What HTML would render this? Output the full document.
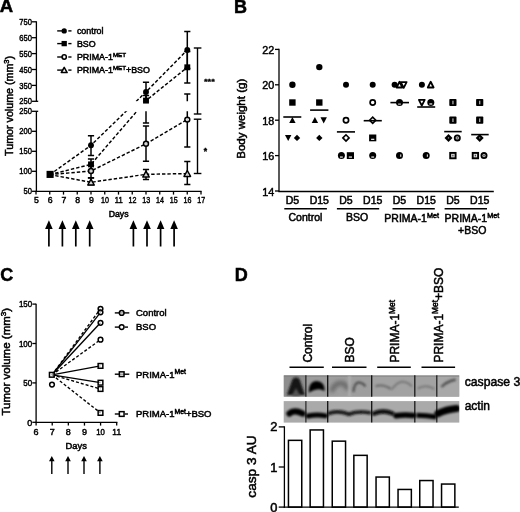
<!DOCTYPE html>
<html><head><meta charset="utf-8"><style>
html,body{margin:0;padding:0;background:#fff;overflow:hidden;width:520px;height:512px;}
svg{display:block;filter:blur(0.3px);}
text{font-family:"Liberation Sans", sans-serif;fill:#000;stroke:#000;}
</style></head><body>
<svg width="520" height="512" viewBox="0 0 520 512">
<rect width="520" height="512" fill="#fff"/>
<text x="-0.3" y="12.4" font-size="18.5" font-weight="bold" text-anchor="start" stroke-width="0.5" >A</text>
<line x1="36.4" y1="21.3" x2="36.4" y2="101.3" stroke="#000" stroke-width="1.3" />
<line x1="36.4" y1="111.3" x2="36.4" y2="191.95" stroke="#000" stroke-width="1.3" />
<line x1="31.8" y1="21.799999999999997" x2="36.4" y2="21.799999999999997" stroke="#000" stroke-width="1.3" />
<text x="31.9" y="24.9" font-size="8.7" font-weight="normal" text-anchor="end" stroke-width="0.45" textLength="12.6" lengthAdjust="spacingAndGlyphs" >750</text>
<line x1="31.8" y1="37.699999999999996" x2="36.4" y2="37.699999999999996" stroke="#000" stroke-width="1.3" />
<text x="31.9" y="40.8" font-size="8.7" font-weight="normal" text-anchor="end" stroke-width="0.45" textLength="12.6" lengthAdjust="spacingAndGlyphs" >650</text>
<line x1="31.8" y1="53.599999999999994" x2="36.4" y2="53.599999999999994" stroke="#000" stroke-width="1.3" />
<text x="31.9" y="56.699999999999996" font-size="8.7" font-weight="normal" text-anchor="end" stroke-width="0.45" textLength="12.6" lengthAdjust="spacingAndGlyphs" >550</text>
<line x1="31.8" y1="69.5" x2="36.4" y2="69.5" stroke="#000" stroke-width="1.3" />
<text x="31.9" y="72.6" font-size="8.7" font-weight="normal" text-anchor="end" stroke-width="0.45" textLength="12.6" lengthAdjust="spacingAndGlyphs" >450</text>
<line x1="31.8" y1="85.39999999999999" x2="36.4" y2="85.39999999999999" stroke="#000" stroke-width="1.3" />
<text x="31.9" y="88.49999999999999" font-size="8.7" font-weight="normal" text-anchor="end" stroke-width="0.45" textLength="12.6" lengthAdjust="spacingAndGlyphs" >350</text>
<line x1="31.8" y1="101.3" x2="38.2" y2="101.3" stroke="#000" stroke-width="1.3" />
<text x="31.9" y="104.39999999999999" font-size="8.7" font-weight="normal" text-anchor="end" stroke-width="0.45" textLength="12.6" lengthAdjust="spacingAndGlyphs" >250</text>
<line x1="31.8" y1="111.30000000000001" x2="38.2" y2="111.30000000000001" stroke="#000" stroke-width="1.3" />
<text x="31.9" y="114.4" font-size="8.7" font-weight="normal" text-anchor="end" stroke-width="0.45" textLength="12.6" lengthAdjust="spacingAndGlyphs" >250</text>
<line x1="31.8" y1="131.3" x2="36.4" y2="131.3" stroke="#000" stroke-width="1.3" />
<text x="31.9" y="134.4" font-size="8.7" font-weight="normal" text-anchor="end" stroke-width="0.45" textLength="12.6" lengthAdjust="spacingAndGlyphs" >200</text>
<line x1="31.8" y1="151.3" x2="36.4" y2="151.3" stroke="#000" stroke-width="1.3" />
<text x="31.9" y="154.4" font-size="8.7" font-weight="normal" text-anchor="end" stroke-width="0.45" textLength="12.6" lengthAdjust="spacingAndGlyphs" >150</text>
<line x1="31.8" y1="171.3" x2="36.4" y2="171.3" stroke="#000" stroke-width="1.3" />
<text x="31.9" y="174.4" font-size="8.7" font-weight="normal" text-anchor="end" stroke-width="0.45" textLength="12.6" lengthAdjust="spacingAndGlyphs" >100</text>
<line x1="31.8" y1="191.3" x2="36.4" y2="191.3" stroke="#000" stroke-width="1.3" />
<text x="31.9" y="194.4" font-size="8.7" font-weight="normal" text-anchor="end" stroke-width="0.45" textLength="8.4" lengthAdjust="spacingAndGlyphs" >50</text>
<line x1="35.75" y1="191.3" x2="201.6" y2="191.3" stroke="#000" stroke-width="1.3" />
<line x1="36.0" y1="191.3" x2="36.0" y2="194.6" stroke="#000" stroke-width="1.3" />
<text x="36.3" y="203.1" font-size="8.7" font-weight="normal" text-anchor="middle" stroke-width="0.45" >5</text>
<line x1="49.75" y1="191.3" x2="49.75" y2="194.6" stroke="#000" stroke-width="1.3" />
<text x="50.05" y="203.1" font-size="8.7" font-weight="normal" text-anchor="middle" stroke-width="0.45" >6</text>
<line x1="63.5" y1="191.3" x2="63.5" y2="194.6" stroke="#000" stroke-width="1.3" />
<text x="63.8" y="203.1" font-size="8.7" font-weight="normal" text-anchor="middle" stroke-width="0.45" >7</text>
<line x1="77.25" y1="191.3" x2="77.25" y2="194.6" stroke="#000" stroke-width="1.3" />
<text x="77.55" y="203.1" font-size="8.7" font-weight="normal" text-anchor="middle" stroke-width="0.45" >8</text>
<line x1="91.0" y1="191.3" x2="91.0" y2="194.6" stroke="#000" stroke-width="1.3" />
<text x="91.3" y="203.1" font-size="8.7" font-weight="normal" text-anchor="middle" stroke-width="0.45" >9</text>
<line x1="104.75" y1="191.3" x2="104.75" y2="194.6" stroke="#000" stroke-width="1.3" />
<text x="105.05" y="203.1" font-size="8.7" font-weight="normal" text-anchor="middle" stroke-width="0.45" textLength="7.9" lengthAdjust="spacingAndGlyphs" >10</text>
<line x1="118.5" y1="191.3" x2="118.5" y2="194.6" stroke="#000" stroke-width="1.3" />
<text x="118.8" y="203.1" font-size="8.7" font-weight="normal" text-anchor="middle" stroke-width="0.45" textLength="7.9" lengthAdjust="spacingAndGlyphs" >11</text>
<line x1="132.25" y1="191.3" x2="132.25" y2="194.6" stroke="#000" stroke-width="1.3" />
<text x="132.55" y="203.1" font-size="8.7" font-weight="normal" text-anchor="middle" stroke-width="0.45" textLength="7.9" lengthAdjust="spacingAndGlyphs" >12</text>
<line x1="146.0" y1="191.3" x2="146.0" y2="194.6" stroke="#000" stroke-width="1.3" />
<text x="146.3" y="203.1" font-size="8.7" font-weight="normal" text-anchor="middle" stroke-width="0.45" textLength="7.9" lengthAdjust="spacingAndGlyphs" >13</text>
<line x1="159.75" y1="191.3" x2="159.75" y2="194.6" stroke="#000" stroke-width="1.3" />
<text x="160.05" y="203.1" font-size="8.7" font-weight="normal" text-anchor="middle" stroke-width="0.45" textLength="7.9" lengthAdjust="spacingAndGlyphs" >14</text>
<line x1="173.5" y1="191.3" x2="173.5" y2="194.6" stroke="#000" stroke-width="1.3" />
<text x="173.8" y="203.1" font-size="8.7" font-weight="normal" text-anchor="middle" stroke-width="0.45" textLength="7.9" lengthAdjust="spacingAndGlyphs" >15</text>
<line x1="187.25" y1="191.3" x2="187.25" y2="194.6" stroke="#000" stroke-width="1.3" />
<text x="187.55" y="203.1" font-size="8.7" font-weight="normal" text-anchor="middle" stroke-width="0.45" textLength="7.9" lengthAdjust="spacingAndGlyphs" >16</text>
<line x1="201.0" y1="191.3" x2="201.0" y2="194.6" stroke="#000" stroke-width="1.3" />
<text x="201.3" y="203.1" font-size="8.7" font-weight="normal" text-anchor="middle" stroke-width="0.45" textLength="7.9" lengthAdjust="spacingAndGlyphs" >17</text>
<text x="108.7" y="217.4" font-size="8.6" font-weight="normal" text-anchor="start" stroke-width="0.5" textLength="19.9" lengthAdjust="spacingAndGlyphs" >Days</text>
<text x="12.6" y="155.9" font-size="10.4" font-weight="normal" text-anchor="start" stroke-width="0.5" textLength="100" lengthAdjust="spacingAndGlyphs" transform="rotate(-90 12.6 155.9)" >Tumor volume (mm<tspan font-size="7.3" dy="-3.8">3</tspan><tspan dy="3.8">)</tspan></text>
<path d="M45.1,229.0 L48.9,220.3 L52.699999999999996,229.0 Z" fill="#000"/>
<line x1="48.9" y1="228.5" x2="48.9" y2="246.5" stroke="#000" stroke-width="1.7" />
<path d="M58.6,229.0 L62.4,220.3 L66.2,229.0 Z" fill="#000"/>
<line x1="62.4" y1="228.5" x2="62.4" y2="246.5" stroke="#000" stroke-width="1.7" />
<path d="M72.0,229.0 L75.8,220.3 L79.6,229.0 Z" fill="#000"/>
<line x1="75.8" y1="228.5" x2="75.8" y2="246.5" stroke="#000" stroke-width="1.7" />
<path d="M85.9,229.0 L89.7,220.3 L93.5,229.0 Z" fill="#000"/>
<line x1="89.7" y1="228.5" x2="89.7" y2="246.5" stroke="#000" stroke-width="1.7" />
<path d="M129.6,229.0 L133.4,220.3 L137.20000000000002,229.0 Z" fill="#000"/>
<line x1="133.4" y1="228.5" x2="133.4" y2="246.5" stroke="#000" stroke-width="1.7" />
<path d="M143.2,229.0 L147.0,220.3 L150.8,229.0 Z" fill="#000"/>
<line x1="147.0" y1="228.5" x2="147.0" y2="246.5" stroke="#000" stroke-width="1.7" />
<path d="M156.79999999999998,229.0 L160.6,220.3 L164.4,229.0 Z" fill="#000"/>
<line x1="160.6" y1="228.5" x2="160.6" y2="246.5" stroke="#000" stroke-width="1.7" />
<path d="M170.29999999999998,229.0 L174.1,220.3 L177.9,229.0 Z" fill="#000"/>
<line x1="174.1" y1="228.5" x2="174.1" y2="246.5" stroke="#000" stroke-width="1.7" />
<line x1="57.2" y1="30.9" x2="64" y2="30.9" stroke="#000" stroke-width="1.4" />
<line x1="68.3" y1="30.9" x2="71.5" y2="30.9" stroke="#000" stroke-width="1.4" />
<circle cx="64.2" cy="30.9" r="2.65" fill="#000"/>
<text x="76.9" y="34.0" font-size="8.9" font-weight="normal" text-anchor="start" stroke-width="0.5" >control</text>
<line x1="57.2" y1="43.6" x2="64" y2="43.6" stroke="#000" stroke-width="1.4" />
<line x1="68.3" y1="43.6" x2="71.5" y2="43.6" stroke="#000" stroke-width="1.4" />
<rect x="61.550000000000004" y="40.95" width="5.3" height="5.3" fill="#000"/>
<text x="76.9" y="46.7" font-size="8.9" font-weight="normal" text-anchor="start" stroke-width="0.5" >BSO</text>
<line x1="57.2" y1="57.0" x2="64" y2="57.0" stroke="#000" stroke-width="1.4" />
<line x1="68.3" y1="57.0" x2="71.5" y2="57.0" stroke="#000" stroke-width="1.4" />
<circle cx="64.2" cy="57.0" r="2.15" fill="#fff" fill-opacity="0.8" stroke="#000" stroke-width="1.5"/>
<text x="76.9" y="60.1" font-size="8.9" font-weight="normal" text-anchor="start" stroke-width="0.5" >PRIMA-1<tspan font-size="6.2" dy="-3.3">MET</tspan></text>
<line x1="57.2" y1="70.1" x2="64" y2="70.1" stroke="#000" stroke-width="1.4" />
<line x1="68.3" y1="70.1" x2="71.5" y2="70.1" stroke="#000" stroke-width="1.4" />
<path d="M61.25000000000001,72.61749999999999 L64.2,67.2825 L67.15,72.61749999999999 Z" fill="#fff" fill-opacity="0.8" stroke="#000" stroke-width="1.5" stroke-linejoin="round"/>
<text x="76.9" y="73.19999999999999" font-size="8.9" font-weight="normal" text-anchor="start" stroke-width="0.5" >PRIMA-1<tspan font-size="6.2" dy="-3.3">MET</tspan><tspan dy="3.3">+BSO</tspan></text>
<defs><clipPath id="cA"><rect x="37" y="0" width="200" height="101.3"/><rect x="37" y="111.3" width="200" height="90"/></clipPath></defs>
<g clip-path="url(#cA)">
<polyline points="49.9,174.6 91,145.3 146,91.9 187.3,50.0" fill="none" stroke="#000" stroke-width="1.45" stroke-dasharray="3.4,2.0" />
<polyline points="49.9,174.6 91,164.4 146,100.6 187.3,67.3" fill="none" stroke="#000" stroke-width="1.45" stroke-dasharray="3.4,2.0" />
<polyline points="49.9,174.6 91,171.0 146,143.8 187.3,119.6" fill="none" stroke="#000" stroke-width="1.45" stroke-dasharray="3.4,2.0" />
<polyline points="49.9,174.6 91,182.3 146,174.3 187.3,173.6" fill="none" stroke="#000" stroke-width="1.45" stroke-dasharray="3.4,2.0" />
<line x1="91" y1="135.8" x2="91" y2="155.5" stroke="#000" stroke-width="1.5" />
<line x1="87.9" y1="135.8" x2="94.1" y2="135.8" stroke="#000" stroke-width="1.5" />
<line x1="87.9" y1="155.5" x2="94.1" y2="155.5" stroke="#000" stroke-width="1.5" />
<line x1="91" y1="158.9" x2="91" y2="169.9" stroke="#000" stroke-width="1.5" />
<line x1="87.9" y1="158.9" x2="94.1" y2="158.9" stroke="#000" stroke-width="1.5" />
<line x1="87.9" y1="169.9" x2="94.1" y2="169.9" stroke="#000" stroke-width="1.5" />
<line x1="91" y1="165.5" x2="91" y2="177.8" stroke="#000" stroke-width="1.5" />
<line x1="87.9" y1="165.5" x2="94.1" y2="165.5" stroke="#000" stroke-width="1.5" />
<line x1="87.9" y1="177.8" x2="94.1" y2="177.8" stroke="#000" stroke-width="1.5" />
<line x1="91" y1="177.9" x2="91" y2="184.7" stroke="#000" stroke-width="1.5" />
<line x1="87.9" y1="177.9" x2="94.1" y2="177.9" stroke="#000" stroke-width="1.5" />
<line x1="87.9" y1="184.7" x2="94.1" y2="184.7" stroke="#000" stroke-width="1.5" />
<line x1="146" y1="82.3" x2="146" y2="101.5" stroke="#000" stroke-width="1.5" />
<line x1="142.9" y1="82.3" x2="149.1" y2="82.3" stroke="#000" stroke-width="1.5" />
<line x1="142.9" y1="101.5" x2="149.1" y2="101.5" stroke="#000" stroke-width="1.5" />
<line x1="146" y1="95.5" x2="146" y2="122.9" stroke="#000" stroke-width="1.5" />
<line x1="142.9" y1="95.5" x2="149.1" y2="95.5" stroke="#000" stroke-width="1.5" />
<line x1="142.9" y1="122.9" x2="149.1" y2="122.9" stroke="#000" stroke-width="1.5" />
<line x1="146" y1="125.9" x2="146" y2="161.3" stroke="#000" stroke-width="1.5" />
<line x1="142.9" y1="125.9" x2="149.1" y2="125.9" stroke="#000" stroke-width="1.5" />
<line x1="142.9" y1="161.3" x2="149.1" y2="161.3" stroke="#000" stroke-width="1.5" />
<line x1="146" y1="169.4" x2="146" y2="179.5" stroke="#000" stroke-width="1.5" />
<line x1="142.9" y1="169.4" x2="149.1" y2="169.4" stroke="#000" stroke-width="1.5" />
<line x1="142.9" y1="179.5" x2="149.1" y2="179.5" stroke="#000" stroke-width="1.5" />
<line x1="187.3" y1="31.5" x2="187.3" y2="68.5" stroke="#000" stroke-width="1.5" />
<line x1="184.20000000000002" y1="31.5" x2="190.4" y2="31.5" stroke="#000" stroke-width="1.5" />
<line x1="184.20000000000002" y1="68.5" x2="190.4" y2="68.5" stroke="#000" stroke-width="1.5" />
<line x1="187.3" y1="51.6" x2="187.3" y2="82.9" stroke="#000" stroke-width="1.5" />
<line x1="184.20000000000002" y1="51.6" x2="190.4" y2="51.6" stroke="#000" stroke-width="1.5" />
<line x1="184.20000000000002" y1="82.9" x2="190.4" y2="82.9" stroke="#000" stroke-width="1.5" />
<line x1="187.3" y1="94.0" x2="187.3" y2="146.9" stroke="#000" stroke-width="1.5" />
<line x1="184.20000000000002" y1="94.0" x2="190.4" y2="94.0" stroke="#000" stroke-width="1.5" />
<line x1="184.20000000000002" y1="146.9" x2="190.4" y2="146.9" stroke="#000" stroke-width="1.5" />
<line x1="187.3" y1="161.5" x2="187.3" y2="184.4" stroke="#000" stroke-width="1.5" />
<line x1="184.20000000000002" y1="161.5" x2="190.4" y2="161.5" stroke="#000" stroke-width="1.5" />
<line x1="184.20000000000002" y1="184.4" x2="190.4" y2="184.4" stroke="#000" stroke-width="1.5" />
</g>
<circle cx="91" cy="145.3" r="2.95" fill="#000"/>
<circle cx="146" cy="91.9" r="2.95" fill="#000"/>
<circle cx="187.3" cy="50.0" r="2.95" fill="#000"/>
<rect x="88.05" y="161.45000000000002" width="5.9" height="5.9" fill="#000"/>
<rect x="143.05" y="97.64999999999999" width="5.9" height="5.9" fill="#000"/>
<rect x="184.35000000000002" y="64.35" width="5.9" height="5.9" fill="#000"/>
<circle cx="91" cy="171.0" r="2.45" fill="#fff" fill-opacity="0.8" stroke="#000" stroke-width="1.5"/>
<circle cx="146" cy="143.8" r="2.45" fill="#fff" fill-opacity="0.8" stroke="#000" stroke-width="1.5"/>
<circle cx="187.3" cy="119.6" r="2.45" fill="#fff" fill-opacity="0.8" stroke="#000" stroke-width="1.5"/>
<path d="M87.75,185.10250000000002 L91,179.1975 L94.25,185.10250000000002 Z" fill="#fff" fill-opacity="0.8" stroke="#000" stroke-width="1.5" stroke-linejoin="round"/>
<path d="M142.75,177.10250000000002 L146,171.1975 L149.25,177.10250000000002 Z" fill="#fff" fill-opacity="0.8" stroke="#000" stroke-width="1.5" stroke-linejoin="round"/>
<path d="M184.05,176.4025 L187.3,170.49749999999997 L190.55,176.4025 Z" fill="#fff" fill-opacity="0.8" stroke="#000" stroke-width="1.5" stroke-linejoin="round"/>
<rect x="46.550000000000004" y="170.85" width="7.1" height="7.1" fill="#000"/>
<line x1="197.5" y1="48" x2="197.5" y2="114" stroke="#000" stroke-width="1.4" />
<line x1="193.8" y1="48" x2="201.4" y2="48" stroke="#000" stroke-width="1.4" />
<line x1="193.8" y1="114" x2="201.4" y2="114" stroke="#000" stroke-width="1.4" />
<line x1="197.5" y1="119.2" x2="197.5" y2="173.5" stroke="#000" stroke-width="1.4" />
<line x1="193.8" y1="119.2" x2="201.4" y2="119.2" stroke="#000" stroke-width="1.4" />
<line x1="193.8" y1="173.5" x2="201.4" y2="173.5" stroke="#000" stroke-width="1.4" />
<text x="204.0" y="84.2" font-size="8.0" font-weight="bold" text-anchor="start" stroke-width="0.35" textLength="10.8" lengthAdjust="spacingAndGlyphs" >***</text>
<text x="203.7" y="153.8" font-size="8.6" font-weight="bold" text-anchor="start" stroke-width="0.4" >*</text>
<text x="234.0" y="12.6" font-size="18" font-weight="bold" text-anchor="start" stroke-width="0.5" >B</text>
<line x1="279.0" y1="48.8" x2="279.0" y2="191.6" stroke="#000" stroke-width="1.3" />
<line x1="275.0" y1="49.4" x2="279.0" y2="49.4" stroke="#000" stroke-width="1.3" />
<text x="274.3" y="53.9" font-size="10.8" font-weight="normal" text-anchor="end" stroke-width="0.45" >22</text>
<line x1="275.0" y1="84.8" x2="279.0" y2="84.8" stroke="#000" stroke-width="1.3" />
<text x="274.3" y="89.3" font-size="10.8" font-weight="normal" text-anchor="end" stroke-width="0.45" >20</text>
<line x1="275.0" y1="120.19999999999999" x2="279.0" y2="120.19999999999999" stroke="#000" stroke-width="1.3" />
<text x="274.3" y="124.69999999999999" font-size="10.8" font-weight="normal" text-anchor="end" stroke-width="0.45" >18</text>
<line x1="275.0" y1="155.6" x2="279.0" y2="155.6" stroke="#000" stroke-width="1.3" />
<text x="274.3" y="160.1" font-size="10.8" font-weight="normal" text-anchor="end" stroke-width="0.45" >16</text>
<line x1="275.0" y1="191.0" x2="279.0" y2="191.0" stroke="#000" stroke-width="1.3" />
<text x="274.3" y="195.5" font-size="10.8" font-weight="normal" text-anchor="end" stroke-width="0.45" >14</text>
<line x1="278.35" y1="191.5" x2="493.8" y2="191.5" stroke="#000" stroke-width="1.3" />
<text x="244.8" y="118.75" font-size="11.0" font-weight="normal" text-anchor="middle" stroke-width="0.5" textLength="80" lengthAdjust="spacingAndGlyphs" transform="rotate(-90 244.8 118.75)" >Body weight (g)</text>
<text x="292.4" y="203.5" font-size="10.5" font-weight="normal" text-anchor="middle" stroke-width="0.5" >D5</text>
<text x="319.3" y="203.5" font-size="10.5" font-weight="normal" text-anchor="middle" stroke-width="0.5" >D15</text>
<text x="346.0" y="203.5" font-size="10.5" font-weight="normal" text-anchor="middle" stroke-width="0.5" >D5</text>
<text x="372.7" y="203.5" font-size="10.5" font-weight="normal" text-anchor="middle" stroke-width="0.5" >D15</text>
<text x="399.5" y="203.5" font-size="10.5" font-weight="normal" text-anchor="middle" stroke-width="0.5" >D5</text>
<text x="426.2" y="203.5" font-size="10.5" font-weight="normal" text-anchor="middle" stroke-width="0.5" >D15</text>
<text x="452.9" y="203.5" font-size="10.5" font-weight="normal" text-anchor="middle" stroke-width="0.5" >D5</text>
<text x="479.7" y="203.5" font-size="10.5" font-weight="normal" text-anchor="middle" stroke-width="0.5" >D15</text>
<line x1="284.3" y1="208.8" x2="326.9" y2="208.8" stroke="#000" stroke-width="1.6" />
<line x1="336.9" y1="208.8" x2="379.2" y2="208.8" stroke="#000" stroke-width="1.6" />
<line x1="392.5" y1="208.8" x2="434.8" y2="208.8" stroke="#000" stroke-width="1.6" />
<line x1="444.6" y1="208.8" x2="487.0" y2="208.8" stroke="#000" stroke-width="1.6" />
<text x="305.4" y="221.3" font-size="10.5" font-weight="normal" text-anchor="middle" stroke-width="0.5" >Control</text>
<text x="357.1" y="221.4" font-size="10.5" font-weight="normal" text-anchor="middle" stroke-width="0.5" >BSO</text>
<text x="384.3" y="222.3" font-size="10.5" font-weight="normal" text-anchor="start" stroke-width="0.5" >PRIMA-1<tspan font-size="7.2" dy="-4.2">Met</tspan></text>
<text x="444.6" y="222.3" font-size="10.5" font-weight="normal" text-anchor="start" stroke-width="0.5" >PRIMA-1<tspan font-size="7.2" dy="-4.2">Met</tspan></text>
<text x="472.2" y="234.2" font-size="10.5" font-weight="normal" text-anchor="middle" stroke-width="0.5" >+BSO</text>
<circle cx="292.4" cy="84.8" r="3.2" fill="#000"/>
<rect x="289.2" y="99.3" width="6.4" height="6.4" fill="#000"/>
<path d="M289.2,123.07999999999998 L292.4,116.99999999999999 L295.59999999999997,123.07999999999998 Z" fill="#000"/>
<path d="M285.0,135.01999999999998 L288.2,141.09999999999997 L291.4,135.01999999999998 Z" fill="#000"/>
<path d="M293.8,137.89999999999998 L297.0,134.7 L300.2,137.89999999999998 L297.0,141.09999999999997 Z" fill="#000"/>
<circle cx="319.3" cy="67.1" r="3.2" fill="#000"/>
<rect x="316.1" y="99.3" width="6.4" height="6.4" fill="#000"/>
<path d="M311.70000000000005,123.07999999999998 L314.90000000000003,116.99999999999999 L318.1,123.07999999999998 Z" fill="#000"/>
<path d="M320.5,117.32 L323.7,123.39999999999999 L326.9,117.32 Z" fill="#000"/>
<path d="M316.1,137.89999999999998 L319.3,134.7 L322.5,137.89999999999998 L319.3,141.09999999999997 Z" fill="#000"/>
<circle cx="346.0" cy="84.8" r="3.0" fill="#000"/>
<circle cx="346.0" cy="120.19999999999999" r="2.6" fill="#fff" stroke="#000" stroke-width="1.7"/>
<path d="M342.90000000000003,137.89999999999998 L346.0,134.79999999999998 L349.09999999999997,137.89999999999998 L346.0,140.99999999999997 Z" fill="#fff" stroke="#000" stroke-width="1.6"/>
<circle cx="341.4" cy="155.6" r="3.5" fill="#000"/><rect x="340.0" y="156.4" width="2.8" height="1.3" fill="#ddd"/>
<rect x="346.8" y="152.20000000000002" width="7.2" height="6.800000000000001" fill="#000"/><rect x="348.79999999999995" y="156.4" width="3.2" height="1.3" fill="#ddd"/>
<circle cx="372.7" cy="84.8" r="3.0" fill="#000"/>
<circle cx="372.7" cy="102.5" r="2.6" fill="#fff" stroke="#000" stroke-width="1.7"/>
<path d="M369.6,120.19999999999999 L372.7,117.09999999999998 L375.79999999999995,120.19999999999999 L372.7,123.3 Z" fill="#fff" stroke="#000" stroke-width="1.6"/>
<rect x="369.1" y="134.5" width="7.2" height="6.800000000000001" fill="#000"/><rect x="371.09999999999997" y="138.7" width="3.2" height="1.3" fill="#ddd"/>
<circle cx="372.7" cy="155.6" r="3.5" fill="#000"/><rect x="371.3" y="156.4" width="2.8" height="1.3" fill="#ddd"/>
<circle cx="394.6" cy="84.8" r="3.0" fill="#000"/>
<path d="M400.8,82.08 L403.7,87.84 L406.59999999999997,82.08 Z" fill="#fff" stroke="#000" stroke-width="1.8" stroke-linejoin="round"/>
<path d="M396.6,87.52 L399.5,81.75999999999999 L402.4,87.52 Z" fill="#fff" stroke="#000" stroke-width="1.8" stroke-linejoin="round"/>
<circle cx="399.5" cy="102.5" r="3.5" fill="#000"/><rect x="398.1" y="103.3" width="2.8" height="1.3" fill="#ddd"/>
<circle cx="399.5" cy="155.6" r="3.5" fill="#000"/><rect x="400.1" y="154.4" width="1.2" height="2.4" fill="#ccc"/>
<circle cx="421.9" cy="84.8" r="3.0" fill="#000"/>
<path d="M427.8,87.52 L430.7,81.75999999999999 L433.59999999999997,87.52 Z" fill="#fff" stroke="#000" stroke-width="1.8" stroke-linejoin="round"/>
<path d="M418.90000000000003,99.78 L421.8,105.54 L424.7,99.78 Z" fill="#fff" stroke="#000" stroke-width="1.8" stroke-linejoin="round"/>
<circle cx="430.8" cy="102.5" r="3.5" fill="#000"/><rect x="429.40000000000003" y="103.3" width="2.8" height="1.3" fill="#ddd"/>
<circle cx="426.2" cy="155.6" r="3.5" fill="#000"/><rect x="426.8" y="154.4" width="1.2" height="2.4" fill="#ccc"/>
<rect x="449.3" y="98.89999999999999" width="7.2" height="7.2" rx="0.8" fill="#000"/><rect x="452.4" y="100.7" width="1.1" height="3.6" fill="#ccc"/>
<rect x="449.3" y="116.59999999999998" width="7.2" height="7.2" rx="0.8" fill="#000"/><rect x="452.4" y="118.39999999999999" width="1.1" height="3.6" fill="#ccc"/>
<path d="M444.5,137.89999999999998 L448.5,133.89999999999998 L452.5,137.89999999999998 L448.5,141.89999999999998 Z" fill="#000"/><rect x="447.9" y="137.29999999999998" width="1.2" height="1.2" fill="#999"/>
<circle cx="457.29999999999995" cy="137.89999999999998" r="2.6" fill="#ccc" stroke="#000" stroke-width="1.8"/><circle cx="457.29999999999995" cy="137.89999999999998" r="0.9" fill="#555"/>
<rect x="450.2" y="152.9" width="5.4" height="5.4" fill="#ddd" stroke="#000" stroke-width="1.9"/><rect x="452.29999999999995" y="154.79999999999998" width="1.2" height="1.6" fill="#444"/>
<rect x="476.1" y="98.89999999999999" width="7.2" height="7.2" rx="0.8" fill="#000"/><rect x="479.2" y="100.7" width="1.1" height="3.6" fill="#ccc"/>
<rect x="476.1" y="116.59999999999998" width="7.2" height="7.2" rx="0.8" fill="#000"/><rect x="479.2" y="118.39999999999999" width="1.1" height="3.6" fill="#ccc"/>
<path d="M475.7,137.89999999999998 L479.7,133.89999999999998 L483.7,137.89999999999998 L479.7,141.89999999999998 Z" fill="#000"/><rect x="479.09999999999997" y="137.29999999999998" width="1.2" height="1.2" fill="#999"/>
<rect x="472.7" y="152.9" width="5.4" height="5.4" fill="#ddd" stroke="#000" stroke-width="1.9"/><rect x="474.79999999999995" y="154.79999999999998" width="1.2" height="1.6" fill="#444"/>
<circle cx="484.0" cy="155.6" r="2.6" fill="#ccc" stroke="#000" stroke-width="1.8"/><circle cx="484.0" cy="155.6" r="0.9" fill="#555"/>
<line x1="283.3" y1="117.0" x2="301.3" y2="117.0" stroke="#000" stroke-width="1.6" />
<line x1="310.1" y1="110.1" x2="328.4" y2="110.1" stroke="#000" stroke-width="1.6" />
<line x1="336.9" y1="131.9" x2="355.0" y2="131.9" stroke="#000" stroke-width="1.6" />
<line x1="363.7" y1="120.7" x2="381.8" y2="120.7" stroke="#000" stroke-width="1.6" />
<line x1="390.4" y1="102.6" x2="409.0" y2="102.6" stroke="#000" stroke-width="1.6" />
<line x1="417.2" y1="107.0" x2="435.2" y2="107.0" stroke="#000" stroke-width="1.6" />
<line x1="444.2" y1="131.6" x2="461.7" y2="131.6" stroke="#000" stroke-width="1.6" />
<line x1="471.2" y1="134.6" x2="488.7" y2="134.6" stroke="#000" stroke-width="1.6" />
<text x="0.2" y="280.8" font-size="18" font-weight="bold" text-anchor="start" stroke-width="0.5" >C</text>
<line x1="36.1" y1="303.7" x2="36.1" y2="423.0" stroke="#000" stroke-width="1.3" />
<line x1="32.3" y1="304.1" x2="36.1" y2="304.1" stroke="#000" stroke-width="1.3" />
<text x="32.2" y="307.40000000000003" font-size="9.0" font-weight="normal" text-anchor="end" stroke-width="0.45" textLength="13.3" lengthAdjust="spacingAndGlyphs" >150</text>
<line x1="32.3" y1="343.5" x2="36.1" y2="343.5" stroke="#000" stroke-width="1.3" />
<text x="32.2" y="346.8" font-size="9.0" font-weight="normal" text-anchor="end" stroke-width="0.45" textLength="13.3" lengthAdjust="spacingAndGlyphs" >100</text>
<line x1="32.3" y1="382.90000000000003" x2="36.1" y2="382.90000000000003" stroke="#000" stroke-width="1.3" />
<text x="32.2" y="386.20000000000005" font-size="9.0" font-weight="normal" text-anchor="end" stroke-width="0.45" textLength="8.9" lengthAdjust="spacingAndGlyphs" >50</text>
<line x1="32.3" y1="422.3" x2="36.1" y2="422.3" stroke="#000" stroke-width="1.3" />
<text x="32.2" y="425.6" font-size="9.0" font-weight="normal" text-anchor="end" stroke-width="0.45" >0</text>
<line x1="35.45" y1="422.3" x2="117.4" y2="422.3" stroke="#000" stroke-width="1.3" />
<line x1="36.1" y1="422.3" x2="36.1" y2="425.6" stroke="#000" stroke-width="1.3" />
<text x="36.1" y="434.7" font-size="9.0" font-weight="normal" text-anchor="middle" stroke-width="0.45" >6</text>
<line x1="52.22" y1="422.3" x2="52.22" y2="425.6" stroke="#000" stroke-width="1.3" />
<text x="52.22" y="434.7" font-size="9.0" font-weight="normal" text-anchor="middle" stroke-width="0.45" >7</text>
<line x1="68.34" y1="422.3" x2="68.34" y2="425.6" stroke="#000" stroke-width="1.3" />
<text x="68.34" y="434.7" font-size="9.0" font-weight="normal" text-anchor="middle" stroke-width="0.45" >8</text>
<line x1="84.46000000000001" y1="422.3" x2="84.46000000000001" y2="425.6" stroke="#000" stroke-width="1.3" />
<text x="84.46000000000001" y="434.7" font-size="9.0" font-weight="normal" text-anchor="middle" stroke-width="0.45" >9</text>
<line x1="100.58000000000001" y1="422.3" x2="100.58000000000001" y2="425.6" stroke="#000" stroke-width="1.3" />
<text x="100.58000000000001" y="434.7" font-size="9.0" font-weight="normal" text-anchor="middle" stroke-width="0.45" textLength="8.7" lengthAdjust="spacingAndGlyphs" >10</text>
<line x1="116.70000000000002" y1="422.3" x2="116.70000000000002" y2="425.6" stroke="#000" stroke-width="1.3" />
<text x="116.70000000000002" y="434.7" font-size="9.0" font-weight="normal" text-anchor="middle" stroke-width="0.45" textLength="8.7" lengthAdjust="spacingAndGlyphs" >11</text>
<text x="65.6" y="448.7" font-size="9.0" font-weight="normal" text-anchor="start" stroke-width="0.5" textLength="21.3" lengthAdjust="spacingAndGlyphs" >Days</text>
<text x="10.3" y="415.5" font-size="11.0" font-weight="normal" text-anchor="start" stroke-width="0.5" textLength="107.7" lengthAdjust="spacingAndGlyphs" transform="rotate(-90 10.3 415.5)" >Tumor volume (mm<tspan font-size="7.8" dy="-4">3</tspan><tspan dy="4">)</tspan></text>
<path d="M49.0,461.2 L51.8,456.0 L54.599999999999994,461.2 Z" fill="#000"/>
<line x1="51.8" y1="460.7" x2="51.8" y2="474.0" stroke="#000" stroke-width="1.4" />
<path d="M65.2,461.2 L68.0,456.0 L70.8,461.2 Z" fill="#000"/>
<line x1="68.0" y1="460.7" x2="68.0" y2="474.0" stroke="#000" stroke-width="1.4" />
<path d="M81.2,461.2 L84.0,456.0 L86.8,461.2 Z" fill="#000"/>
<line x1="84.0" y1="460.7" x2="84.0" y2="474.0" stroke="#000" stroke-width="1.4" />
<path d="M97.10000000000001,461.2 L99.9,456.0 L102.7,461.2 Z" fill="#000"/>
<line x1="99.9" y1="460.7" x2="99.9" y2="474.0" stroke="#000" stroke-width="1.4" />
<line x1="52.0" y1="374.8" x2="100.5" y2="308.8" stroke="#000" stroke-width="1.35" stroke-dasharray="3,2" />
<line x1="52.0" y1="374.8" x2="100.5" y2="312.3" stroke="#000" stroke-width="1.35" />
<line x1="52.0" y1="374.8" x2="100.5" y2="322.8" stroke="#000" stroke-width="1.35" />
<line x1="52.0" y1="374.8" x2="100.5" y2="339.7" stroke="#000" stroke-width="1.35" stroke-dasharray="3,2" />
<line x1="52.0" y1="374.8" x2="100.5" y2="365.9" stroke="#000" stroke-width="1.35" />
<line x1="52.0" y1="374.8" x2="100.5" y2="382.7" stroke="#000" stroke-width="1.35" />
<line x1="52.0" y1="374.8" x2="100.5" y2="389.0" stroke="#000" stroke-width="1.35" stroke-dasharray="3,2" />
<line x1="52.0" y1="374.8" x2="100.5" y2="412.9" stroke="#000" stroke-width="1.35" stroke-dasharray="3,2" />
<circle cx="52.0" cy="384.6" r="2.35" fill="#fff" fill-opacity="0.6" stroke="#000" stroke-width="1.5"/>
<rect x="49.449999999999996" y="372.45" width="4.7" height="4.7" fill="#fff" fill-opacity="0.6" stroke="#000" stroke-width="1.5"/>
<circle cx="100.5" cy="308.8" r="2.35" fill="#fff" fill-opacity="0.6" stroke="#000" stroke-width="1.5"/>
<circle cx="100.5" cy="312.3" r="2.35" fill="#fff" fill-opacity="0.6" stroke="#000" stroke-width="1.5"/>
<circle cx="100.5" cy="322.8" r="2.35" fill="#fff" fill-opacity="0.6" stroke="#000" stroke-width="1.5"/>
<circle cx="100.5" cy="339.7" r="2.35" fill="#fff" fill-opacity="0.6" stroke="#000" stroke-width="1.5"/>
<rect x="98.15" y="363.54999999999995" width="4.7" height="4.7" fill="#fff" fill-opacity="0.6" stroke="#000" stroke-width="1.5"/>
<rect x="98.15" y="380.34999999999997" width="4.7" height="4.7" fill="#fff" fill-opacity="0.6" stroke="#000" stroke-width="1.5"/>
<rect x="98.15" y="386.65" width="4.7" height="4.7" fill="#fff" fill-opacity="0.6" stroke="#000" stroke-width="1.5"/>
<rect x="98.15" y="410.54999999999995" width="4.7" height="4.7" fill="#fff" fill-opacity="0.6" stroke="#000" stroke-width="1.5"/>
<line x1="114.8" y1="312.9" x2="129.3" y2="312.9" stroke="#000" stroke-width="1.4" />
<circle cx="121.7" cy="312.9" r="2.35" fill="#fff" fill-opacity="0.6" stroke="#000" stroke-width="1.5"/>
<text x="136.0" y="316.2" font-size="9.5" font-weight="normal" text-anchor="start" stroke-width="0.5" >Control</text>
<line x1="114.8" y1="327.1" x2="119.5" y2="327.1" stroke="#000" stroke-width="1.4" />
<line x1="124.8" y1="327.1" x2="128.0" y2="327.1" stroke="#000" stroke-width="1.4" />
<circle cx="121.7" cy="327.1" r="2.35" fill="#fff" fill-opacity="0.6" stroke="#000" stroke-width="1.5"/>
<text x="136.0" y="330.40000000000003" font-size="9.5" font-weight="normal" text-anchor="start" stroke-width="0.5" >BSO</text>
<line x1="114.8" y1="374.2" x2="129.3" y2="374.2" stroke="#000" stroke-width="1.4" />
<rect x="119.35000000000001" y="371.84999999999997" width="4.7" height="4.7" fill="#fff" fill-opacity="0.6" stroke="#000" stroke-width="1.5"/>
<text x="136.0" y="377.5" font-size="9.5" font-weight="normal" text-anchor="start" stroke-width="0.5" >PRIMA-1<tspan font-size="6.8" dy="-3.8">Met</tspan></text>
<line x1="114.8" y1="414.0" x2="119.5" y2="414.0" stroke="#000" stroke-width="1.4" />
<line x1="124.8" y1="414.0" x2="128.0" y2="414.0" stroke="#000" stroke-width="1.4" />
<rect x="119.35000000000001" y="411.65" width="4.7" height="4.7" fill="#fff" fill-opacity="0.6" stroke="#000" stroke-width="1.5"/>
<text x="136.0" y="417.3" font-size="9.5" font-weight="normal" text-anchor="start" stroke-width="0.5" >PRIMA-1<tspan font-size="6.8" dy="-3.8">Met</tspan><tspan dy="3.8">+BSO</tspan></text>
<text x="234.7" y="281.0" font-size="18" font-weight="bold" text-anchor="start" stroke-width="0.5" >D</text>
<text x="311.6" y="362.6" font-size="12" font-weight="normal" text-anchor="start" stroke-width="0.5" transform="rotate(-90 311.6 362.6)" >Control</text>
<text x="354.4" y="362.6" font-size="12" font-weight="normal" text-anchor="start" stroke-width="0.5" transform="rotate(-90 354.4 362.6)" >BSO</text>
<text x="399.1" y="362.6" font-size="12" font-weight="normal" text-anchor="start" stroke-width="0.5" transform="rotate(-90 399.1 362.6)" >PRIMA-1<tspan font-size="8.4" dy="-4.6">Met</tspan></text>
<text x="443.0" y="362.6" font-size="12" font-weight="normal" text-anchor="start" stroke-width="0.5" transform="rotate(-90 443.0 362.6)" >PRIMA-1<tspan font-size="8.4" dy="-4.6">Met</tspan><tspan dy="4.6">+BSO</tspan></text>
<line x1="289.5" y1="367.2" x2="323.8" y2="367.2" stroke="#000" stroke-width="1.5" />
<line x1="332.0" y1="367.2" x2="366.5" y2="367.2" stroke="#000" stroke-width="1.5" />
<line x1="377.2" y1="367.2" x2="410.8" y2="367.2" stroke="#000" stroke-width="1.5" />
<line x1="421.5" y1="367.2" x2="455.1" y2="367.2" stroke="#000" stroke-width="1.5" />
<defs>
<filter id="b1" filterUnits="userSpaceOnUse" x="270" y="360" width="200" height="80"><feGaussianBlur stdDeviation="1.3"/></filter>
<filter id="b2" filterUnits="userSpaceOnUse" x="270" y="360" width="200" height="80"><feGaussianBlur stdDeviation="0.8"/></filter>
<filter id="b4" filterUnits="userSpaceOnUse" x="270" y="360" width="200" height="80"><feGaussianBlur stdDeviation="1.0"/></filter>
<filter id="b3" filterUnits="userSpaceOnUse" x="270" y="360" width="200" height="80"><feGaussianBlur stdDeviation="2.2"/></filter>
<clipPath id="cb1"><rect x="283.7" y="375.3" width="175.6" height="21.4"/></clipPath>
<clipPath id="cb2"><rect x="283.7" y="401.1" width="175.6" height="21.5"/></clipPath>
</defs>
<rect x="283.7" y="375.3" width="175.6" height="21.4" fill="#a2a2a2"/>
<rect x="283.7" y="401.1" width="175.6" height="21.5" fill="#aaaaaa"/>
<g clip-path="url(#cb1)">
<rect x="283.7" y="375.3" width="22.3" height="21.4" fill="#8e8e8e"/>
<rect x="306" y="375.3" width="21.7" height="21.4" fill="#9c9c9c"/>
<rect x="327.7" y="375.3" width="44" height="21.4" fill="#9e9e9e"/>
<rect x="437" y="375.3" width="22.3" height="21.4" fill="#a8a8a8"/>
<rect x="283.7" y="375.3" width="175.6" height="1.6" fill="#777" opacity="0.5"/>
<path d="M286.8,395 L292.5,379 Q296,375.5 299.5,379 L305,395 Z" fill="#181818" filter="url(#b1)"/>
<path d="M291.8,396 L296,388 L300.2,396 Z" fill="#555" filter="url(#b1)"/>
<path d="M309.8,391 Q310,382.5 316.5,382 Q323.5,382.5 323.6,389.5 Q317,386.5 309.8,391 Z" fill="#000" stroke="#000" stroke-width="2" filter="url(#b2)"/>
<path d="M331.5,392 Q334,383 341,383 Q347,384 347.5,390" fill="none" stroke="#5e5e5e" stroke-width="4" filter="url(#b3)"/>
<rect x="348.5" y="375.3" width="2" height="21.4" fill="#b4b4b4" filter="url(#b2)"/>
<path d="M353.5,392 Q354,383 358.5,382.3 Q363,382.5 365.5,386.5" fill="none" stroke="#505050" stroke-width="2.2" filter="url(#b2)"/>
<path d="M375.5,386.5 Q382,383.5 391,389" fill="none" stroke="#6e6e6e" stroke-width="2.2" filter="url(#b2)"/>
<path d="M391.5,389.5 Q398,381 403,381.7 Q409,382.5 411.8,386.5" fill="none" stroke="#777" stroke-width="2" filter="url(#b2)"/>
<path d="M417.6,388.6 Q426,383.5 434.4,389" fill="none" stroke="#787878" stroke-width="2" filter="url(#b2)"/>
<path d="M441.5,387 Q446,381.5 455.7,379.6" fill="none" stroke="#555" stroke-width="2.6" filter="url(#b2)"/>
</g>
<g clip-path="url(#cb2)">
<path d="M289.5,413.5 Q294,409.3 302.5,413.5" fill="none" stroke="#050505" stroke-width="6.3" stroke-linecap="round" filter="url(#b4)"/>
<path d="M308,416 Q317,414 325.5,415.8" fill="none" stroke="#050505" stroke-width="4.9" stroke-linecap="round" filter="url(#b4)"/>
<path d="M328,413.7 Q337,410 349,414.2 Q358,410.5 371,413" fill="none" stroke="#151515" stroke-width="3.7" filter="url(#b4)"/>
<path d="M374,413.5 Q383,409.5 392.5,413.5" fill="none" stroke="#080808" stroke-width="4.5" stroke-linecap="round" filter="url(#b4)"/>
<path d="M396,415.8 Q404,414.5 413.5,415.5" fill="none" stroke="#000" stroke-width="5.5" stroke-linecap="round" filter="url(#b4)"/>
<path d="M416.5,415.2 Q426,415.5 436.5,417" fill="none" stroke="#000" stroke-width="4.9" filter="url(#b4)"/>
<path d="M438,413.5 Q446,409.5 456.5,408.5" fill="none" stroke="#000" stroke-width="7.1" stroke-linecap="round" filter="url(#b4)"/>
</g>
<line x1="305.9" y1="375.3" x2="305.9" y2="396.7" stroke="#000" stroke-width="1.1" stroke-opacity="0.85"/>
<line x1="305.9" y1="401.1" x2="305.9" y2="422.6" stroke="#000" stroke-width="1.1" stroke-opacity="0.85"/>
<line x1="327.7" y1="375.3" x2="327.7" y2="396.7" stroke="#000" stroke-width="1.3" stroke-opacity="0.9"/>
<line x1="327.7" y1="401.1" x2="327.7" y2="422.6" stroke="#000" stroke-width="1.3" stroke-opacity="0.9"/>
<line x1="371.7" y1="375.3" x2="371.7" y2="396.7" stroke="#000" stroke-width="1.3" stroke-opacity="0.9"/>
<line x1="371.7" y1="401.1" x2="371.7" y2="422.6" stroke="#000" stroke-width="1.3" stroke-opacity="0.9"/>
<line x1="414.8" y1="375.3" x2="414.8" y2="396.7" stroke="#000" stroke-width="1.3" stroke-opacity="0.85"/>
<line x1="414.8" y1="401.1" x2="414.8" y2="422.6" stroke="#000" stroke-width="1.3" stroke-opacity="0.85"/>
<line x1="436.8" y1="375.3" x2="436.8" y2="396.7" stroke="#000" stroke-width="1.2" stroke-opacity="0.85"/>
<line x1="436.8" y1="401.1" x2="436.8" y2="422.6" stroke="#000" stroke-width="1.2" stroke-opacity="0.85"/>
<text x="464.7" y="386.3" font-size="12.2" font-weight="normal" text-anchor="start" stroke-width="0.5" >caspase 3</text>
<text x="464.7" y="410.2" font-size="12.0" font-weight="normal" text-anchor="start" stroke-width="0.5" >actin</text>
<line x1="284.4" y1="426.3" x2="284.4" y2="507.8" stroke="#000" stroke-width="1.3" />
<line x1="278.7" y1="426.90000000000003" x2="284.4" y2="426.90000000000003" stroke="#000" stroke-width="1.3" />
<text x="277.5" y="431.40000000000003" font-size="12.9" font-weight="normal" text-anchor="end" stroke-width="0.5" >2</text>
<line x1="278.7" y1="467.0" x2="284.4" y2="467.0" stroke="#000" stroke-width="1.3" />
<text x="277.5" y="471.5" font-size="12.9" font-weight="normal" text-anchor="end" stroke-width="0.5" >1</text>
<line x1="278.7" y1="507.1" x2="284.4" y2="507.1" stroke="#000" stroke-width="1.3" />
<text x="277.5" y="511.6" font-size="12.9" font-weight="normal" text-anchor="end" stroke-width="0.5" >0</text>
<line x1="283.7" y1="507.1" x2="458.8" y2="507.1" stroke="#000" stroke-width="1.3" />
<rect x="288.45" y="440.35" width="13.3" height="66.75" fill="none" stroke="#000" stroke-width="1.5"/>
<rect x="310.15" y="429.95" width="13.3" height="77.15000000000003" fill="none" stroke="#000" stroke-width="1.5"/>
<rect x="332.25" y="441.15" width="13.3" height="65.95000000000005" fill="none" stroke="#000" stroke-width="1.5"/>
<rect x="353.85" y="455.35" width="13.3" height="51.75" fill="none" stroke="#000" stroke-width="1.5"/>
<rect x="376.05" y="477.05" width="13.3" height="30.05000000000001" fill="none" stroke="#000" stroke-width="1.5"/>
<rect x="398.05" y="489.45" width="13.3" height="17.650000000000034" fill="none" stroke="#000" stroke-width="1.5"/>
<rect x="419.75" y="480.55" width="13.3" height="26.55000000000001" fill="none" stroke="#000" stroke-width="1.5"/>
<rect x="441.55" y="484.05" width="13.3" height="23.05000000000001" fill="none" stroke="#000" stroke-width="1.5"/>
<text x="256.0" y="466.5" font-size="12.6" font-weight="normal" text-anchor="middle" stroke-width="0.5" textLength="62.3" lengthAdjust="spacingAndGlyphs" transform="rotate(-90 256.0 466.5)" >casp 3 AU</text>
</svg>
</body></html>
